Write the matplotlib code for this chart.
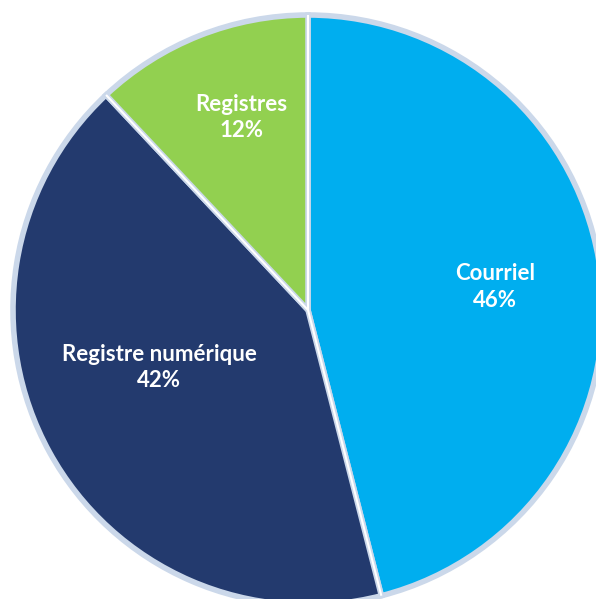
import matplotlib
matplotlib.use("Agg")
import matplotlib.pyplot as plt
import numpy as np

# données
categories = ["Courriel", "Registre numérique", "Registres"]
parts = [46, 42, 12]
colors = ["#00AEEF", "#233A6E", "#92D050"]

W, H = 596, 599
fig = plt.figure(figsize=(W / 100, H / 100), dpi=100)
ax = fig.add_axes([0, 0, 1, 1])

cx, cy, r = 308, 289, 295

# contour bleu clair
wedges, _ = ax.pie(parts, colors=colors, startangle=90, counterclock=False,
                   center=(cx, cy), radius=r, frame=True,
                   wedgeprops=dict(edgecolor="#cbd8ea", linewidth=4,
                                   joinstyle="miter"))
# trait blanc au milieu des séparations
for w in wedges:
    t = np.radians(w.theta1)
    ax.plot([cx, cx + r * np.cos(t)], [cy, cy + r * np.sin(t)],
            color="white", lw=1.5, solid_capstyle="butt")

ax.set_xlim(0, W)
ax.set_ylim(0, H)
ax.set_aspect("equal")
ax.axis("off")

# position des étiquettes (angle en degrés, distance relative au rayon)
label_pos = [(7, 0.64), (-159, 0.54), (109, 0.69)]
for cat, p, (ang, d) in zip(categories, parts, label_pos):
    x = cx + d * r * np.cos(np.radians(ang))
    y = cy + d * r * np.sin(np.radians(ang))
    ax.text(x, y, f"{cat}\n{p}%", ha="center", va="center", color="white",
            fontsize=16, fontweight="bold", family=["Lato", "DejaVu Sans"],
            linespacing=1.3)

fig.savefig("out.png", dpi=100)
